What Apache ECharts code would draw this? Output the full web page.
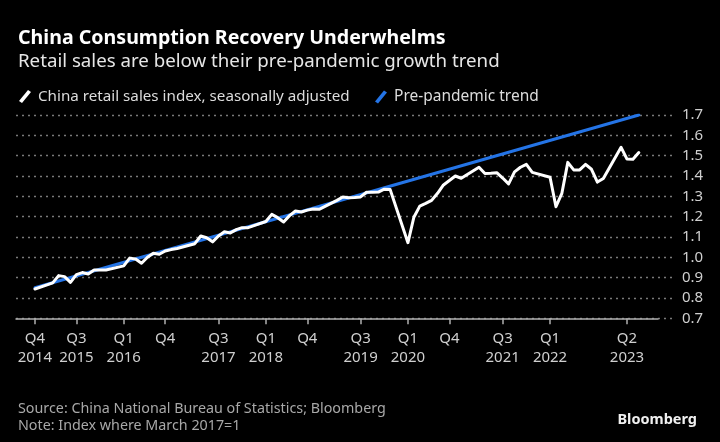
<!DOCTYPE html>
<html>
<head>
<meta charset="utf-8">
<script src="https://cdn.jsdelivr.net/npm/echarts@6/dist/echarts.min.js"></script>
<style>
html,body{margin:0;padding:0;background:#000;}
#chart{width:720px;height:442px;}
</style>
</head>
<body>
<div id="chart"></div>
<script>
// Monthly categories (Jan/Feb not published separately -> null)
const months = [
  "2014-12",
  "2015-01","2015-02","2015-03","2015-04","2015-05","2015-06","2015-07","2015-08","2015-09","2015-10","2015-11","2015-12",
  "2016-01","2016-02","2016-03","2016-04","2016-05","2016-06","2016-07","2016-08","2016-09","2016-10","2016-11","2016-12",
  "2017-01","2017-02","2017-03","2017-04","2017-05","2017-06","2017-07","2017-08","2017-09","2017-10","2017-11","2017-12",
  "2018-01","2018-02","2018-03","2018-04","2018-05","2018-06","2018-07","2018-08","2018-09","2018-10","2018-11","2018-12",
  "2019-01","2019-02","2019-03","2019-04","2019-05","2019-06","2019-07","2019-08","2019-09","2019-10","2019-11","2019-12",
  "2020-01","2020-02","2020-03","2020-04","2020-05","2020-06","2020-07","2020-08","2020-09","2020-10","2020-11","2020-12",
  "2021-01","2021-02","2021-03","2021-04","2021-05","2021-06","2021-07","2021-08","2021-09","2021-10","2021-11","2021-12",
  "2022-01","2022-02","2022-03","2022-04","2022-05","2022-06","2022-07","2022-08","2022-09","2022-10","2022-11","2022-12",
  "2023-01","2023-02","2023-03","2023-04","2023-05","2023-06"
];
const retailIndex = [
  0.844,
  null,null,0.874,0.910,0.905,0.877,0.915,0.925,0.918,0.937,0.938,0.938,
  null,null,0.958,0.996,0.992,0.971,1.000,1.020,1.015,1.031,1.038,1.043,
  null,null,1.067,1.105,1.096,1.076,1.105,1.126,1.120,1.136,1.146,1.146,
  null,null,1.176,1.211,1.195,1.174,1.205,1.228,1.223,1.232,1.238,1.236,
  null,null,1.280,1.297,1.293,1.294,1.297,1.320,1.320,1.321,1.335,1.333,
  null,null,1.072,1.197,1.252,1.265,1.280,1.315,1.356,1.378,1.400,1.389,
  null,null,1.443,1.412,1.413,1.416,1.390,1.361,1.420,1.443,1.457,1.418,
  null,null,1.394,1.249,1.315,1.467,1.430,1.430,1.457,1.433,1.370,1.388,
  null,null,1.541,1.483,1.482,1.515
];
// Pre-pandemic trend: straight line between these endpoints
const trendMonths = ["2014-12","2023-06"];
const trendValues = [0.85, 1.70];
// Tick labels on x axis
const tickMonths = ["2014-12","2015-07","2016-03","2016-10","2017-07","2018-03","2018-10","2019-07","2020-03","2020-10","2021-07","2022-03","2023-04"];
const tickLabels = ["Q4\n2014","Q3\n2015","Q1\n2016","Q4","Q3\n2017","Q1\n2018","Q4","Q3\n2019","Q1\n2020","Q4","Q3\n2021","Q1\n2022","Q2\n2023"];
const yTicks = [0.7,0.8,0.9,1.0,1.1,1.2,1.3,1.4,1.5,1.6,1.7];

const seriesNames = ["China retail sales index, seasonally adjusted","Pre-pandemic trend"];
const titleText = "China Consumption Recovery Underwhelms";
const subtitleText = "Retail sales are below their pre-pandemic growth trend";
const sourceText = "Source: China National Bureau of Statistics; Bloomberg\nNote: Index where March 2017=1";

const FONT = "'Noto Sans', sans-serif";
const idx = m => months.indexOf(m);
const retailData = [];
retailIndex.forEach((v,i)=>{ if(v!==null) retailData.push([i,v]); });
const trendData = trendMonths.map((m,i)=>[idx(m), trendValues[i]]);
const tickIdx = tickMonths.map(idx);
const labelMap = {};
tickIdx.forEach((t,i)=>{ labelMap[t]=tickLabels[i]; });

const chart = echarts.init(document.getElementById('chart'), null, {renderer:'canvas'});
const slash = 'path://M0,11 L9,0 L12,2 L3,13 Z';
chart.setOption({
  backgroundColor:'#000',
  animation:false,
  title:[
    {text:titleText,left:13,top:23,textStyle:{color:'#fff',fontFamily:FONT,fontWeight:'bold',fontSize:19.6}},
    {text:subtitleText,left:13,top:47,textStyle:{color:'#e6e6e6',fontFamily:FONT,fontWeight:'normal',fontSize:18.7}},
    {text:sourceText,left:13,top:395,textStyle:{color:'#a8a8a8',fontFamily:FONT,fontWeight:'normal',fontSize:14.3,lineHeight:17}},
    {text:'Bloomberg',right:18,top:407,textStyle:{color:'#f0f0f0',fontFamily:FONT,fontWeight:'bold',fontSize:14.5}}
  ],
  legend:[
    {left:14,top:84,itemWidth:14,itemHeight:13,itemGap:5,icon:slash,data:[seriesNames[0]],
     textStyle:{color:'#dcdcdc',fontFamily:FONT,fontSize:15.2,padding:[0,0,0,1]}},
    {left:370,top:84,itemWidth:14,itemHeight:13,icon:slash,data:[seriesNames[1]],
     textStyle:{color:'#dcdcdc',fontFamily:FONT,fontSize:15.5,padding:[0,0,0,1]}}
  ],
  grid:[
    {left:16,right:48,top:115,bottom:123.7,containLabel:false},
    {left:16,right:62,top:115,bottom:123.7,containLabel:false}
  ],
  xAxis:[
    {type:'value',gridIndex:0,min:-3.2,max:107.6,
     axisLine:{show:false},
     splitLine:{show:false},
     axisTick:{show:true,customValues:tickIdx,length:6,lineStyle:{color:'#b0b0b0',width:1.5}},
     axisLabel:{show:true,customValues:tickIdx,color:'#cfcfcf',fontFamily:FONT,fontSize:15,lineHeight:19,margin:11,
       formatter:v=>labelMap[Math.round(v)]||''}},
    {type:'value',gridIndex:1,min:0,max:1,
     axisLine:{show:true,onZero:false,lineStyle:{color:'#b0b0b0',width:1.5}},
     axisTick:{show:false},axisLabel:{show:false},splitLine:{show:false}}
  ],
  yAxis:[
    {type:'value',gridIndex:0,position:'right',min:0.7,max:1.7,interval:0.1,
     axisLine:{show:false},axisTick:{show:false},
     splitLine:{show:true,lineStyle:{color:'#7a7a7a',type:[2,4],width:1.3}},
     axisLabel:{color:'#cfcfcf',fontFamily:FONT,fontSize:15,margin:10,align:'left',
       formatter:v=>v.toFixed(1)}},
    {type:'value',gridIndex:1,show:false,min:0,max:1}
  ],
  series:[
    {name:seriesNames[1],type:'line',xAxisIndex:0,yAxisIndex:0,data:trendData,symbol:'none',
     color:'#2474e6',lineStyle:{width:3,color:'#2474e6',cap:'round'},z:2},
    {name:seriesNames[0],type:'line',xAxisIndex:0,yAxisIndex:0,data:retailData,symbol:'none',
     color:'#ffffff',lineStyle:{width:3,color:'#ffffff',join:'round',cap:'round'},z:3}
  ]
});
</script>
</body>
</html>
